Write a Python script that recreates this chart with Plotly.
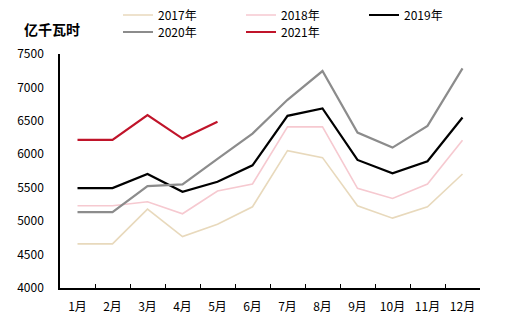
import plotly.graph_objects as go

months = ["1月", "2月", "3月", "4月", "5月", "6月", "7月", "8月", "9月", "10月", "11月", "12月"]
y2017 = [4660, 4660, 5180, 4770, 4955, 5215, 6055, 5950, 5230, 5045, 5215, 5705]
y2018 = [5230, 5230, 5290, 5110, 5450, 5555, 6410, 6410, 5490, 5340, 5555, 6210]
y2019 = [5495, 5495, 5705, 5440, 5590, 5835, 6575, 6685, 5915, 5715, 5895, 6550]
y2020 = [5135, 5135, 5525, 5550, 5930, 6310, 6815, 7245, 6325, 6100, 6425, 7285]
y2021 = [6215, 6215, 6585, 6235, 6485]

series = [
    ("2017年", y2017, "#E8D9BC", 1.6, "legend"),
    ("2018年", y2018, "#F6C9D0", 1.6, "legend"),
    ("2019年", y2019, "#000000", 2.2, "legend"),
    ("2020年", y2020, "#8C8C8C", 2.2, "legend2"),
    ("2021年", y2021, "#C0142A", 2.2, "legend2"),
]

font = "Noto Sans CJK SC, Noto Sans, sans-serif"
fig = go.Figure()
for name, vals, color, w, lg in series:
    fig.add_trace(go.Scatter(x=months[:len(vals)], y=vals, name=name, mode="lines",
                             line=dict(color=color, width=w), legend=lg))

W, H = 509, 323
leg_common = dict(orientation="h", xanchor="left", yanchor="middle",
                  xref="container", yref="container",
                  entrywidth=78, entrywidthmode="pixels", tracegroupgap=0,
                  font=dict(size=12), itemwidth=30, bgcolor="rgba(0,0,0,0)")

fig.update_layout(
    width=W, height=H,
    margin=dict(l=60, r=29, t=54, b=35, autoexpand=False),
    paper_bgcolor="white", plot_bgcolor="white",
    font=dict(family=font, size=12, color="#000000"),
    showlegend=True,
    legend=dict(**leg_common, x=118 / W, y=1 - 15 / H),
    legend2=dict(**leg_common, x=118 / W, y=1 - 32 / H),
    xaxis=dict(type="category", categoryorder="array", categoryarray=months,
               showline=True, linecolor="#000000", linewidth=1.5,
               ticks="inside", tickson="boundaries", ticklen=4, tickcolor="#000000",
               showgrid=False, zeroline=False, range=[-0.5, 11.5],
               tickfont=dict(size=12), ticklabelstandoff=7),
    yaxis=dict(range=[4000, 7500], dtick=500, showline=True, linecolor="#000000",
               linewidth=1.5, showgrid=False, zeroline=False, ticks="",
               tickfont=dict(size=12), ticklabelstandoff=12),
    annotations=[dict(text="<b>亿千瓦时</b>", x=22 / W, y=1 - 29 / H,
                      xref="paper", yref="paper", showarrow=False,
                      xanchor="left", yanchor="middle", font=dict(size=14))],
)
pw, ph = W - 60 - 29, H - 54 - 35
fig.layout.annotations[0].update(x=(22 - 60) / pw, y=(ph + 54 - 29) / ph)
fig.write_html("out.html")
